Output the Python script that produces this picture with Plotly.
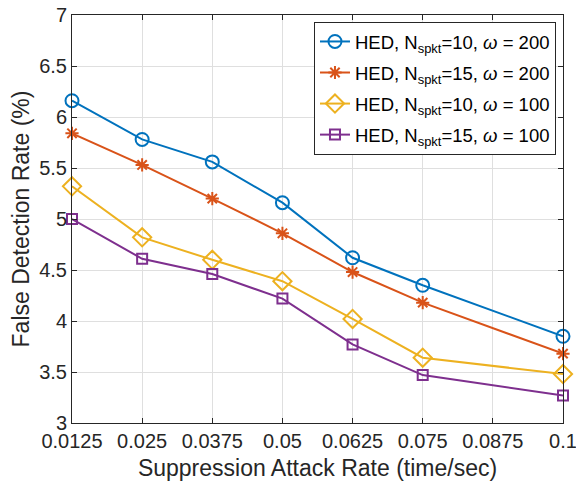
import plotly.graph_objects as go

x_vals = [0.0125, 0.025, 0.0375, 0.05, 0.0625, 0.075, 0.1]
s1 = [6.16, 5.78, 5.56, 5.16, 4.62, 4.35, 3.85]
s2 = [5.84, 5.53, 5.20, 4.86, 4.48, 4.18, 3.68]
s3 = [5.32, 4.82, 4.60, 4.39, 4.02, 3.64, 3.48]
s4 = [5.00, 4.61, 4.46, 4.22, 3.77, 3.47, 3.27]
names = [
    "HED, N<sub>spkt</sub>=10, <i>ω</i> = 200",
    "HED, N<sub>spkt</sub>=15, <i>ω</i> = 200",
    "HED, N<sub>spkt</sub>=10, <i>ω</i> = 100",
    "HED, N<sub>spkt</sub>=15, <i>ω</i> = 100",
]
colors = ["#0072BD", "#D95319", "#EDB120", "#7E2F8E"]
symbols = ["circle-open", "asterisk-open", "diamond-open", "square-open"]
sizes = [13, 11, 14, 10]
xtick_vals = [0.0125, 0.025, 0.0375, 0.05, 0.0625, 0.075, 0.0875, 0.1]
xtick_text = ["0.0125", "0.025", "0.0375", "0.05", "0.0625", "0.075", "0.0875", "0.1"]
ytick_vals = [3, 3.5, 4, 4.5, 5, 5.5, 6, 6.5, 7]

FONT = "Liberation Sans, Arial, sans-serif"
fig = go.Figure()
for i, (ys, nm, c, sym, sz) in enumerate(zip([s1, s2, s3, s4], names, colors, symbols, sizes)):
    fig.add_trace(go.Scatter(
        x=x_vals, y=ys, name=nm, mode="lines+markers", legendgroup=f"g{i}",
        line=dict(color=c, width=2),
        marker=dict(symbol=sym, size=sz, color=c, line=dict(width=2, color=c)),
        cliponaxis=False,
    ))

axis_common = dict(
    showline=True, linecolor="#262626", linewidth=1, mirror="ticks",
    ticks="inside", ticklen=5, tickcolor="#262626",
    showgrid=True, gridcolor="#dfdfdf", gridwidth=1, zeroline=False,
    tickfont=dict(family=FONT, size=20, color="#262626"),
    automargin=False, ticklabeloverflow="allow",
)
fig.update_xaxes(
    range=[0.0125 - 1e-9, 0.1 + 1e-9], tickmode="array", tickvals=xtick_vals, ticktext=xtick_text,
    title=dict(text="Suppression Attack Rate (time/sec)", font=dict(family=FONT, size=23, color="#262626"), standoff=8),
    **axis_common,
)
fig.update_yaxes(
    range=[3, 7], tickmode="array", tickvals=ytick_vals,
    title=dict(text="False Detection Rate (%)", font=dict(family=FONT, size=23, color="#262626"), standoff=3),
    **axis_common,
)
fig.update_layout(
    width=576, height=489,
    margin=dict(l=72, r=13, t=15, b=66),
    plot_bgcolor="white", paper_bgcolor="white",
    font=dict(family=FONT, color="#262626"),
    legend=dict(
        x=0.9857, xanchor="right", y=0.983, yanchor="top",
        bgcolor="white", bordercolor="#262626", borderwidth=1,
        font=dict(family=FONT, size=18.5, color="#000000"),
        tracegroupgap=4, itemwidth=30,
    ),
)
fig.write_html("out.html", config={"displayModeBar": False},
               post_script="document.body.style.margin='0';")
